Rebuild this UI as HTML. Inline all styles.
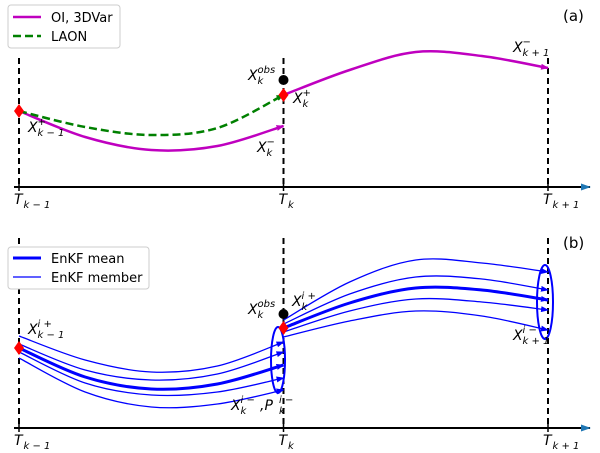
<!DOCTYPE html>
<html><head><meta charset="utf-8"><style>
body{margin:0;background:#fff}
svg{display:block;font-family:"DejaVu Sans","Liberation Sans",sans-serif}
.m{font-style:italic}
</style></head><body>
<svg id="chart" width="600" height="453" viewBox="0 0 600 453">
<defs>
<marker id="arM" markerWidth="8" markerHeight="6" refX="7" refY="3" orient="auto" markerUnits="userSpaceOnUse"><path d="M0,0 L8,3 L0,6z" fill="#bf00bf"/></marker>
<marker id="arG" markerWidth="8" markerHeight="6" refX="7" refY="3" orient="auto" markerUnits="userSpaceOnUse"><path d="M0,0 L8,3 L0,6z" fill="#008000"/></marker>
<marker id="arB" markerWidth="8" markerHeight="6" refX="7" refY="3" orient="auto" markerUnits="userSpaceOnUse"><path d="M0,0 L8,3 L0,6z" fill="#0000ff"/></marker>
<marker id="arK" markerWidth="10" markerHeight="7" refX="9" refY="3.5" orient="auto" markerUnits="userSpaceOnUse"><path d="M0,0 L10,3.5 L0,7z" fill="#1f77b4"/></marker>
</defs>
<g id="layer"></g>
</svg>
<script>
// time axis categories
const times = [0, 1, 2];
const tickLabels = ['k \u2212 1', 'k', 'k + 1'];
// panel (a) series, values sampled at fractions 0,.25,.5,.75,1 of each interval
const oiSeg1 = [76, 50, 37, 41, 61];
const laonSeg1 = [76, 60, 52, 59, 92];
const oiSeg2 = [92, 117, 135, 131, 119];
// panel (b) members and mean
const enkfMeanSeg1 = [80, 51, 39, 44, 63];
const enkfMembersSeg1 = [[92, 68, 56, 62, 86],[84, 58, 48, 54, 76],[76, 45, 33, 36, 50],[70, 36, 21, 24, 38]];
const enkfMeanSeg2 = [100, 125, 140, 138, 128];
const enkfMembersSeg2 = [[108, 146, 168, 165, 156],[104, 134, 151, 149, 138],[96, 117, 129, 126, 118],[91, 107, 117, 112, 98]];

const NS='http://www.w3.org/2000/svg';
const g=document.getElementById('layer');
const xS=t=>19+t*264.5;
const yA=v=>187-v, yB=v=>428-v;
function mk(tag,attrs,parent){const e=document.createElementNS(NS,tag);for(const k in attrs)e.setAttribute(k,attrs[k]);(parent||g).appendChild(e);return e;}
function pathFrom(vals,t0,ys){
  const pts=vals.map((v,i)=>[xS(t0+i/(vals.length-1)),ys(v)]);
  let d='M'+pts[0][0]+','+pts[0][1];
  for(let i=0;i<pts.length-1;i++){
    const p0=pts[Math.max(0,i-1)],p1=pts[i],p2=pts[i+1],p3=pts[Math.min(pts.length-1,i+2)];
    const c1=[p1[0]+(p2[0]-p0[0])/6,p1[1]+(p2[1]-p0[1])/6];
    const c2=[p2[0]-(p3[0]-p1[0])/6,p2[1]-(p3[1]-p1[1])/6];
    d+=` C${c1[0]},${c1[1]} ${c2[0]},${c2[1]} ${p2[0]},${p2[1]}`;
  }
  return d;
}
// math-like label: base letter with superscript and subscript stacked
function lbl(x,y,base,sp,sb,name){
  const grp=mk('g',{});
  
  
  const t=mk('text',{x:x,y:y,class:'m','font-size':14},grp);t.textContent=base;
  const bw=base.length*9.5;
  if(sp){const s=mk('text',{x:x+bw,y:y-7,class:'m','font-size':10},grp);s.textContent=sp;}
  if(sb){const s=mk('text',{x:x+bw,y:y+4,class:'m','font-size':10},grp);s.textContent=sb;}
  return grp;
}

function axes(top,base,prefix){
  const ax=mk('line',{x1:14,y1:base,x2:590,y2:base,stroke:'#000','stroke-width':2,'marker-end':'url(#arK)'});
  
  
  times.forEach((t,i)=>{
    const l=mk('line',{x1:xS(t),y1:top,x2:xS(t),y2:base,stroke:'#000','stroke-width':2,'stroke-dasharray':'6,4'});
    
    
    const tk=mk('line',{x1:xS(t),y1:base-4,x2:xS(t),y2:base+4,stroke:'#000','stroke-width':1.5});
    
    
    lbl(xS(t)-5,base+17,'T',null,tickLabels[i],prefix+'-tick-label-'+i);
  });
}
// Panel a
axes(58,187,'a');
let p=mk('path',{d:pathFrom(oiSeg1,0,yA),fill:'none',stroke:'#bf00bf','stroke-width':2.5,'marker-end':'url(#arM)'});


p=mk('path',{d:pathFrom(laonSeg1,0,yA),fill:'none',stroke:'#008000','stroke-width':2.5,'stroke-dasharray':'8,4','marker-end':'url(#arG)'});


p=mk('path',{d:pathFrom(oiSeg2,1,yA),fill:'none',stroke:'#bf00bf','stroke-width':2.5,'marker-end':'url(#arM)'});


function diamond(x,y,name){const d=mk('path',{d:`M${x},${y-7} L${x+5},${y} L${x},${y+7} L${x-5},${y}z`,fill:'#ff0000'});

}
function dot(x,y,name){const c=mk('circle',{cx:x,cy:y,r:5,fill:'#000'});

}
diamond(xS(0),yA(oiSeg1[0]),'a-analysis-start');
dot(xS(1),80,'a-observation');
diamond(xS(1),yA(oiSeg2[0]),'a-analysis-k');
lbl(28,132,'X','+','k \u2212 1','a-label-xk-1');
lbl(257,152,'X','\u2212','k','a-label-xk-minus');
lbl(248,80,'X','obs','k','a-label-xobs');
lbl(293,103,'X','+','k','a-label-xk-plus');
lbl(513,52,'X','\u2212','k + 1','a-label-xk1-minus');
let t=mk('text',{x:563,y:21,'font-size':15});t.textContent='(a)';


// legend a
let lg=mk('g',{});


mk('rect',{x:8,y:5,width:112,height:43,rx:3,fill:'#fff',stroke:'#ccc'},lg);
mk('line',{x1:13,y1:17,x2:41,y2:17,stroke:'#bf00bf','stroke-width':2.5},lg);
mk('line',{x1:13,y1:36,x2:41,y2:36,stroke:'#008000','stroke-width':2.5,'stroke-dasharray':'8,4'},lg);
t=mk('text',{x:51,y:22,'font-size':13},lg);t.textContent='OI, 3DVar';


t=mk('text',{x:51,y:41,'font-size':13},lg);t.textContent='LAON';



// Panel b
axes(238,428,'b');
function ens(mean,members,t0,prefix){
  members.forEach((m,i)=>{const q=mk('path',{d:pathFrom(m,t0,yB),fill:'none',stroke:'#0000ff','stroke-width':1.3,'marker-end':'url(#arB)'});
  
  });
  const q=mk('path',{d:pathFrom(mean,t0,yB),fill:'none',stroke:'#0000ff','stroke-width':3,'marker-end':'url(#arB)'});
  
  
}
ens(enkfMeanSeg1,enkfMembersSeg1,0,'enkf-seg1');
ens(enkfMeanSeg2,enkfMembersSeg2,1,'enkf-seg2');
let e=mk('ellipse',{cx:278,cy:360,rx:7,ry:33,fill:'none',stroke:'#0000ff','stroke-width':2});


e=mk('ellipse',{cx:545,cy:302,rx:8,ry:37,fill:'none',stroke:'#0000ff','stroke-width':2});


diamond(xS(0),yB(enkfMeanSeg1[0]),'b-analysis-start');
dot(xS(1),314,'b-observation');
diamond(xS(1),yB(enkfMeanSeg2[0]),'b-analysis-k');
lbl(28,334,'X','i +','k \u2212 1','b-label-xk-1');
lbl(248,314,'X','obs','k','b-label-xobs');
lbl(292,306,'X','i +','k','b-label-xk-plus');
lbl(231,410,'X','i \u2212','k','b-label-xk-minus');
lbl(260,410,',P','i \u2212','k','b-label-pk-minus');
lbl(513,340,'X','i \u2212','k + 1','b-label-xk1-minus');
t=mk('text',{x:563,y:248,'font-size':15});t.textContent='(b)';


lg=mk('g',{});


mk('rect',{x:8,y:247,width:141,height:42,rx:3,fill:'#fff',stroke:'#ccc'},lg);
mk('line',{x1:13,y1:258,x2:41,y2:258,stroke:'#0000ff','stroke-width':3},lg);
mk('line',{x1:13,y1:277,x2:41,y2:277,stroke:'#0000ff','stroke-width':1.3},lg);
t=mk('text',{x:51,y:263,'font-size':13},lg);t.textContent='EnKF mean';


t=mk('text',{x:51,y:282,'font-size':13},lg);t.textContent='EnKF member';


</script>
</body></html>
